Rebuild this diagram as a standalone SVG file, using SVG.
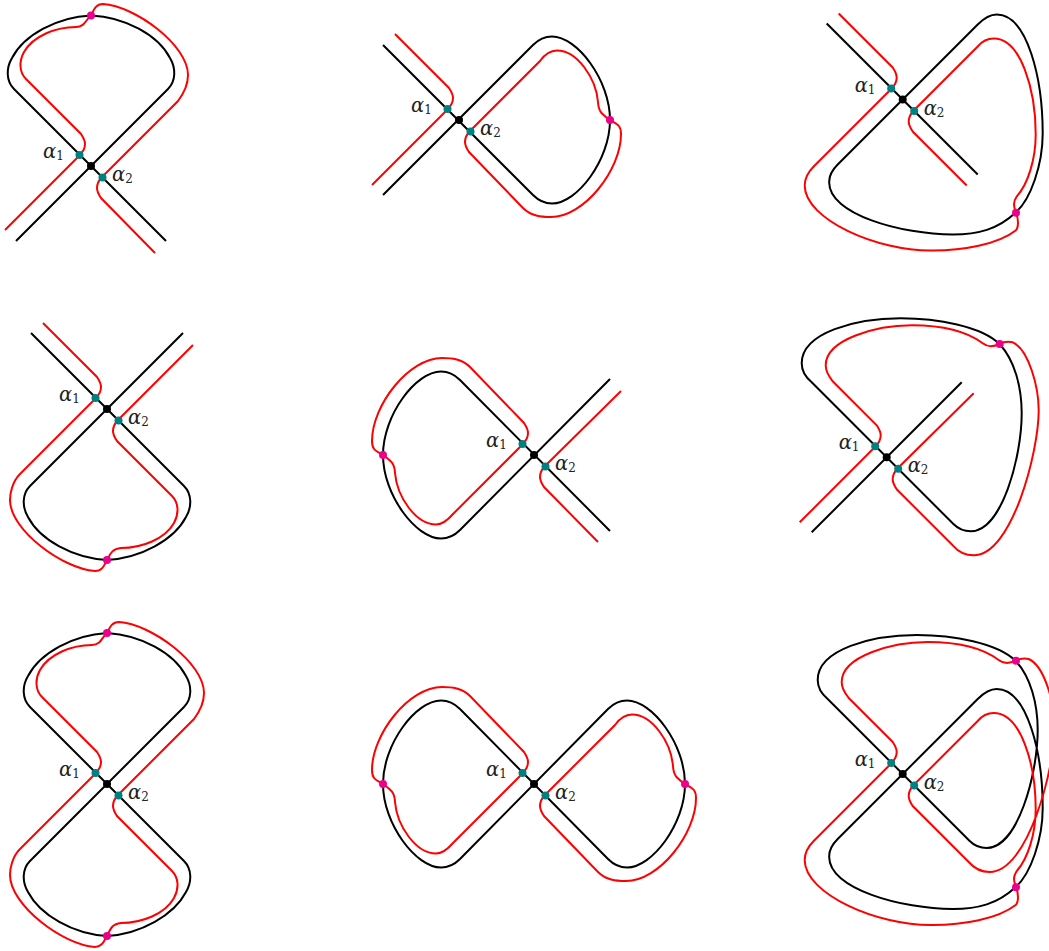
<svg xmlns="http://www.w3.org/2000/svg" width="1049" height="951" viewBox="0 0 1049 951">
<style>
.b{fill:none;stroke:#000;stroke-width:2}
.r{fill:none;stroke:#f00;stroke-width:2}
.c{fill:#000}
.t{fill:#008080}
.m{fill:#ec008c}
text{font-family:"DejaVu Serif","Liberation Serif",serif;font-style:italic;font-size:19.5px;fill:#222}
tspan{font-style:normal;font-size:12px}
</style>
<defs>
<g id="dots"><circle class="t" cx="-11.5" cy="-11" r="4"/><circle class="t" cx="11.5" cy="11.5" r="4"/><circle class="c" cx="0" cy="0" r="4"/></g>
</defs>
<g id="p1" transform="translate(91,166)">
<path class="b" d="M-75 75L77-77C85-85 85-98 79-108C67-131 34-149 0-150.5C-34-149-67-131-79-108C-85-98-85-85-77-77L75 75"/>
<path class="r" d="M-86 64L-11.5-10.5C-8-14-6-18-6-22C-6-26-8-29-10-32L-65-87C-72-94-72-105-67-114C-58-130-35-139-15-139C-6-139-5-147 0-150.5C3-157 5-162 12-162C44-160 97-121 97-91C97-81 93-73 87-65L11.5 10.5C8 14 6 18 6 22C6 26 8 29 10 32L64 87"/>
<use href="#dots"/><circle class="m" cx="0" cy="-150.5" r="4"/>
<text x="-48" y="-8">α<tspan dy="2">1</tspan></text><text x="21" y="15">α<tspan dy="2">2</tspan></text>
</g>
<g id="p2" transform="translate(459,120)">
<path class="b" d="M-76 75L74-75C80-81 86-83.5 93-83.5C118-83.5 151-40 151 0C151 40 118 83.5 93 83.5C86 83.5 80 81 74 75L-76-75"/>
<path class="r" d="M-87 65L-11.5-10.5C-8-14-6-18-6-22C-6-26-8-29-10-32L-64-86M11.5 10.5L81-59C86-66 92-69.5 98-69.5C118-69.5 137-42 139-18C139.5-8 143-6 151 0C157 4 162 4 162 14C162 50 125 97 92 97C82 97 72 96 64 88L10 32C8 29 6 26 6 22C6 18 8 14 11.5 10.5"/>
<use href="#dots"/><circle class="m" cx="151" cy="0" r="4"/>
<text x="-48" y="-8">α<tspan dy="2">1</tspan></text><text x="21" y="15">α<tspan dy="2">2</tspan></text>
</g>
<g id="p3" transform="translate(902.7,99.5)">
<path class="b" d="M-76-76L75 75M75-75C81-81 87-85 94-85C125-85 140-20 140 34C140 65 128 100 113 113C95 130 75 135 50 135C0 135-75 115-73.5 82C-73.5 76-70 70-65 65L75-75"/>
<path class="r" d="M-64-86L-10-32C-8-29-6-26-6-22C-6-18-8-14-11.5-10.5L-89 67C-95 73-98 79-98 86C-98 120-25 152 30 151C60 151 95 145 113 131C116 128 116 120 113.3 113.2C111 107 110 103 114 97C125 85 133 60 133 35C133-10 118-61 91-61C85-61 80-59 75-53L11.5 10.5C8 14 6 18 6 22C6 26 8 29 10 32L64 86"/>
<use href="#dots"/><circle class="m" cx="113.3" cy="113.2" r="4"/>
<text x="-48" y="-8">α<tspan dy="2">1</tspan></text><text x="21" y="15">α<tspan dy="2">2</tspan></text>
</g>
<g id="p4" transform="translate(107,409)">
<path class="b" d="M-76-76L77 77C85 85 85 98 79 108C67 131 34 149 0 151C-34 149-67 131-79 108C-85 98-85 85-77 77L76-76"/>
<path class="r" d="M-64-86L-10-32C-8-29-6-26-6-22C-6-18-8-14-11.5-10.5L-87 65C-95 73-97 85-97 91C-97 121-44 160-12 162C-5 162-3 157 0 151C4 143 6 140 14 139C35 139 58 130 67 114C72 105 72 94 65 87L10 32C8 29 6 26 6 22C6 18 8 14 11.5 10.5L86-64"/>
<use href="#dots"/><circle class="m" cx="0" cy="151" r="4"/>
<text x="-48" y="-8">α<tspan dy="2">1</tspan></text><text x="21" y="15">α<tspan dy="2">2</tspan></text>
</g>
<g id="p5" transform="translate(534,455)">
<path class="b" d="M76-76L-74 75C-80 81-86 83.5-93 83.5C-118 83.5-151 40-151 0C-151-40-118-83.5-93-83.5C-86-83.5-80-81-74-75L76 76"/>
<path class="r" d="M-11.5-10.5L-81 59C-87 66-92 69.5-98 69.5C-118 69.5-137 42-139 18C-139.5 8-143 6-151 0C-157-4-162-4-162-14C-162-50-125-97-92-97C-82-97-72-96-64-88L-10-32C-8-29-6-26-6-22C-6-18-8-14-11.5-10.5M87-64L11.5 10.5C8 14 6 18 6 22C6 26 8 29 10 32L64 87"/>
<use href="#dots"/><circle class="m" cx="-151" cy="0" r="4"/>
<text x="-48" y="-8">α<tspan dy="2">1</tspan></text><text x="21" y="15">α<tspan dy="2">2</tspan></text>
</g>
<g id="p6" transform="translate(886.7,457.3)">
<path class="b" d="M75-75L-75 75M-75-75L67 67C72 72 77 74 84 74C115 74 135 0 135-44C135-70 128-97 113-113C95-131 50-139 14-139C-30-139-85-125-85-94C-85-87-81-80-75-75"/>
<path class="r" d="M-87 65L-11.5-10.5C-8-14-6-18-6-22C-6-26-8-29-10-32L-54-76C-58-81-61-86-61-92C-61-118-10-132 25-132C55-132 80-126 96-114C101-110 106-110 113-113.3C118-116 122-116 126-115C142-108 152-70 152-47C152-5 125 98 87 98C78 98 72 95 66 88L10 32C8 29 6 26 6 22C6 18 8 14 11.5 10.5L87-64"/>
<use href="#dots"/><circle class="m" cx="113" cy="-113.3" r="4"/>
<text x="-48" y="-8">α<tspan dy="2">1</tspan></text><text x="21" y="15">α<tspan dy="2">2</tspan></text>
</g>
<g id="p7" transform="translate(107,784)">
<path class="b" d="M-77 77L77-77C85-85 85-98 79-108C67-131 34-149 0-151C-34-149-67-131-79-108C-85-98-85-85-77-77L77 77C85 85 85 98 79 108C67 131 34 150 0 152C-34 150-67 131-79 108C-85 98-85 85-77 77"/>
<path class="r" d="M-11.5-10.5C-8-14-6-18-6-22C-6-26-8-29-10-32L-65-87C-72-94-72-105-67-114C-58-130-35-139-15-139C-6-139-5-147 0-151C3-157 5-162 12-162C44-160 97-121 97-91C97-81 93-73 87-65L11.5 10.5C8 14 6 18 6 22C6 26 8 29 10 32L65 87C72 94 72 105 67 114C58 130 35 139 14 139C6 140 4 143 0 152C-3 157-5 163-12 163C-44 161-97 121-97 91C-97 85-95 73-87 65L-11.5-10.5"/>
<use href="#dots"/><circle class="m" cx="0" cy="-151" r="4"/><circle class="m" cx="0" cy="152" r="4"/>
<text x="-48" y="-8">α<tspan dy="2">1</tspan></text><text x="21" y="15">α<tspan dy="2">2</tspan></text>
</g>
<g id="p8" transform="translate(534,784)">
<path class="b" d="M-74 75C-80 81-86 83.5-93 83.5C-118 83.5-151 40-151 0C-151-40-118-83.5-93-83.5C-86-83.5-80-81-74-75L74 75C80 81 86 83.5 93 83.5C118 83.5 151 40 151 0C151-40 118-83.5 93-83.5C86-83.5 80-81 74-75L-74 75"/>
<path class="r" d="M-11.5-10.5L-81 59C-87 66-92 69.5-98 69.5C-118 69.5-137 42-139 18C-139.5 8-143 6-151 0C-157-4-162-4-162-14C-162-50-125-97-92-97C-82-97-72-96-64-88L-10-32C-8-29-6-26-6-22C-6-18-8-14-11.5-10.5M11.5 10.5L81-59C86-66 92-69.5 98-69.5C118-69.5 137-42 139-18C139.5-8 143-6 151 0C157 4 162 4 162 14C162 50 125 97 92 97C82 97 72 96 64 88L10 32C8 29 6 26 6 22C6 18 8 14 11.5 10.5"/>
<use href="#dots"/><circle class="m" cx="-151" cy="0" r="4"/><circle class="m" cx="151" cy="0" r="4"/>
<text x="-48" y="-8">α<tspan dy="2">1</tspan></text><text x="21" y="15">α<tspan dy="2">2</tspan></text>
</g>
<g id="p9" transform="translate(902.7,774)">
<path class="b" d="M-75-75L67 67C72 72 77 74 84 74C115 74 135 0 135-44C135-70 128-97 113-113C95-131 50-139 14-139C-30-139-85-125-85-94C-85-87-81-80-75-75M75-75C81-81 87-85 94-85C125-85 140-20 140 34C140 65 128 100 113 113C95 130 75 135 50 135C0 135-75 115-73.5 82C-73.5 76-70 70-65 65L75-75"/>
<path class="r" d="M-11.5-10.5C-8-14-6-18-6-22C-6-26-8-29-10-32L-54-76C-58-81-61-86-61-92C-61-118-10-132 25-132C55-132 80-126 96-114C101-110 106-110 113-113.3C118-116 122-116 126-115C142-108 152-70 152-47C152-5 125 98 87 98C78 98 72 95 66 88L10 32C8 29 6 26 6 22C6 18 8 14 11.5 10.5M-11.5-10.5L-89 67C-95 73-98 79-98 86C-98 120-25 152 30 151C60 151 95 145 113 131C116 128 116 120 113.3 113.2C111 107 110 103 114 97C125 85 133 60 133 35C133-10 118-61 91-61C85-61 80-59 75-53L11.5 10.5"/>
<use href="#dots"/><circle class="m" cx="113.3" cy="-113.3" r="4"/><circle class="m" cx="113.3" cy="113.2" r="4"/>
<text x="-48" y="-8">α<tspan dy="2">1</tspan></text><text x="21" y="15">α<tspan dy="2">2</tspan></text>
</g>
</svg>
